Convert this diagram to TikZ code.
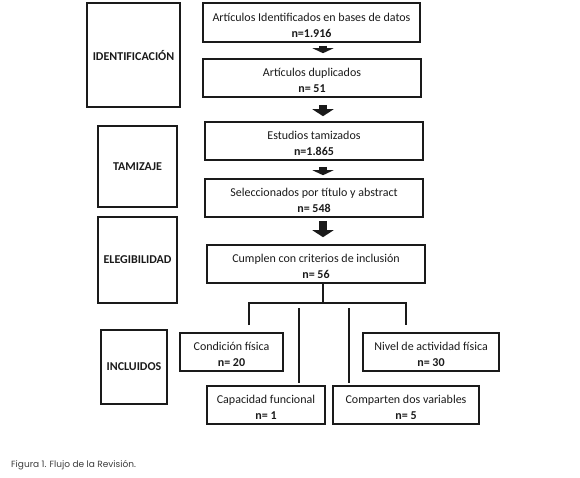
\documentclass[tikz,border=0pt]{standalone}
\usepackage{fontspec}
\setmainfont{Carlito}
\newfontfamily\capfont{Poppins}
\usetikzlibrary{arrows.meta}
\definecolor{ink}{HTML}{1A1A1A}
\tikzset{
  x=1pt,y=-1pt,
  rbox/.style={draw=ink,line width=1.6pt,minimum height=38pt,align=center,inner sep=0pt,
    text height=29pt,text depth=0pt,
    font=\fontsize{12}{16}\selectfont,text=ink},
  lbox/.style={draw=ink,line width=2.8pt,align=center,inner sep=0pt,
    font=\fontsize{12}{14}\selectfont\bfseries,text=ink},
  barrow/.style={draw=ink,line width=8pt,-{Triangle[width=21pt,length=7pt]}},
  sarrow/.style={draw=ink,line width=8pt,-{Triangle[width=21pt,length=5pt]}},
  tree/.style={draw=ink,line width=1.6pt},
}
\begin{document}
\begin{tikzpicture}
\useasboundingbox (0,0) rectangle (580,477);
% stage labels
\node[lbox,minimum width=93pt,minimum height=104pt] (id) at (133.5,55) {IDENTIFICACIÓN};
\node[lbox,minimum width=79pt,minimum height=81pt] (tam) at (137.5,166.5) {TAMIZAJE};
\node[lbox,minimum width=79pt,minimum height=86pt] (ele) at (137.5,260) {ELEGIBILIDAD};
\node[lbox,minimum width=66pt,minimum height=74pt] (inc) at (134,367) {INCLUIDOS};
% main flow
\node[rbox,minimum width=217pt,minimum height=39pt] (b1) at (311.5,22.5) {Artículos Identificados en bases de datos\\\textbf{n=1.916}};
\node[rbox,minimum width=218pt] (b2) at (312,78) {Artículos duplicados\\\textbf{n= 51}};
\node[rbox,minimum width=218pt] (b3) at (314,141) {Estudios tamizados\\\textbf{n=1.865}};
\node[rbox,minimum width=218pt] (b4) at (314,198) {Seleccionados por título y abstract\\\textbf{n= 548}};
\node[rbox,minimum width=218pt] (b5) at (316,264) {Cumplen con criterios de inclusión\\\textbf{n= 56}};
% included
\node[rbox,minimum width=103pt] (cond) at (231.5,352) {Condición física\\\textbf{n= 20}};
\node[rbox,minimum width=136pt] (niv) at (431,352) {Nivel de actividad física\\\textbf{n= 30}};
\node[rbox,minimum width=118pt] (cap) at (266,405) {Capacidad funcional\\\textbf{n= 1}};
\node[rbox,minimum width=146pt] (comp) at (406,405) {Comparten dos variables\\\textbf{n= 5}};
% block arrows
\draw[sarrow,shorten <=3pt,shorten >=5pt] ([xshift=11.5pt]b1.south) -- ([xshift=11.5pt]b1.south |- b2.north);
\draw[barrow,shorten <=7pt,shorten >=5pt] ([xshift=11pt]b2.south) -- ([xshift=11pt]b2.south |- b3.north);
\draw[sarrow,shorten <=6pt,shorten >=3pt] ([xshift=9pt]b3.south) -- ([xshift=9pt]b3.south |- b4.north);
\draw[barrow,shorten <=3pt,shorten >=7pt] ([xshift=9pt]b4.south) -- ([xshift=9pt]b4.south |- b5.north);
% tree
\coordinate (j) at (323,303);
\coordinate (hl) at (249,303);
\coordinate (hr) at (406,303);
\coordinate (ca) at (299,308);
\coordinate (cb) at (349,308);
\draw[tree] (b5.south -| j) -- (j);
\draw[tree] ([yshift=7pt]hl |- cond.north) -- (hl) -- (hr) -- ([yshift=7pt]hr |- niv.north);
\draw[tree] (ca) -- ([yshift=2pt]ca |- cap.north);
\draw[tree] (cb) -- ([yshift=2pt]cb |- comp.north);
% caption
\node[anchor=west,inner sep=0pt,font=\capfont\fontsize{9}{11}\selectfont,text=ink!85] (capt) at (11,465) {Figura 1. Flujo de la Revisión.};
\end{tikzpicture}
\end{document}
